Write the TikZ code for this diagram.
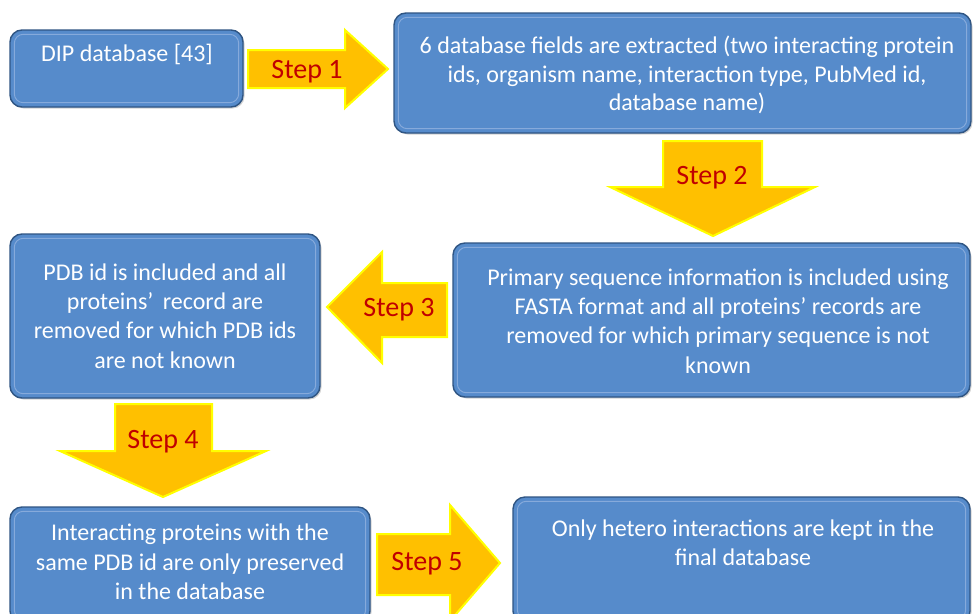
\documentclass[tikz,border=0pt]{standalone}
\usepackage{fontspec}
\setmainfont{Carlito}
\usepackage{tikz}
\usetikzlibrary{shadows}

\definecolor{boxblue}{HTML}{568BCB}
\definecolor{boxedge}{HTML}{2F5583}
\definecolor{bevelblue}{HTML}{86AADB}
\definecolor{stepfill}{HTML}{FFC000}
\definecolor{stepedge}{HTML}{FFFF00}
\definecolor{steptext}{HTML}{C00000}

\tikzset{
  box/.style={draw=boxedge, line width=1.4pt, fill=boxblue, rounded corners=12pt,
    drop shadow={shadow xshift=1.5pt, shadow yshift=-1.5pt, opacity=0.35}},
  bevel/.style={draw=bevelblue, line width=1pt, rounded corners=9pt},
  txt/.style={text=white, align=center, font=\fontsize{24}{29.3}\selectfont},
  stepshape/.style={fill=stepfill, draw=stepedge, line width=2pt, line join=miter},
  steplabel/.style={text=steptext, font=\fontsize{28}{30}\selectfont}
}

\begin{document}
\begin{tikzpicture}[x=1pt,y=-1pt]
  \useasboundingbox (0,0) rectangle (973,613);
  \clip (0,0) rectangle (973,613);

  % Boxes
  \node[box, minimum width=233pt, minimum height=77pt] (dip) at (126.5,68.5) {};
  \node[box, minimum width=577pt, minimum height=120pt] (fields) at (682.5,73) {};
  \node[box, minimum width=310pt, minimum height=164pt] (pdb) at (165,316) {};
  \node[box, minimum width=517pt, minimum height=154pt] (fasta) at (711.5,320) {};
  \node[box, minimum width=360pt, minimum height=116pt] (same) at (190,565) {};
  \node[box, minimum width=457pt, minimum height=126pt] (hetero) at (741.5,560) {};

  % inner bevel line
  \foreach \b in {dip,fields,pdb,fasta,same,hetero}
    \draw[bevel] ([shift={(5pt,-5pt)}]\b.north west) rectangle ([shift={(-5pt,5pt)}]\b.south east);

  % Texts
  \node[txt] (diptext) at (127,54) {DIP database [43]};
  \node[txt, font=\fontsize{24}{28.5}\selectfont] (fieldstext) at (687,75) {6 database fields are extracted (two interacting protein\\ids, organism name, interaction type, PubMed id,\\database name)};
  \node[txt] (pdbtext) at (165,316) {PDB id is included and all\\proteins'\, record are\\removed for which PDB ids\\are not known};
  \node[txt] (fastatext) at (718,321) {Primary sequence information is included using\\FASTA format and all proteins' records are\\removed for which primary sequence is not\\known};
  \node[txt] (sametext) at (190,562) {Interacting proteins with the\\same PDB id are only preserved\\in the database};
  \node[txt] (heterotext) at (743,543) {Only hetero interactions are kept in the\\final database};

  % Step arrows
  \draw[stepshape] (248,50) -- (345,50) -- (345,30) -- (388,69) -- (345,108) -- (345,88) -- (248,88) -- cycle;
  \node[steplabel] (step1) at (307,72) {Step 1};

  \draw[stepshape] (663,141) -- (762,141) -- (762,187) -- (815,187) -- (713,236) -- (610,187) -- (663,187) -- cycle;
  \node[steplabel] (step2) at (712,178) {Step 2};

  \draw[stepshape] (447,283) -- (382,283) -- (382,252) -- (327,307) -- (382,363) -- (382,337) -- (447,337) -- cycle;
  \node[steplabel] (step3) at (399,310) {Step 3};

  \draw[stepshape] (115,404) -- (212,404) -- (212,451) -- (266,451) -- (163,497) -- (60,451) -- (115,451) -- cycle;
  \node[steplabel] (step4) at (163,442) {Step 4};

  \draw[stepshape] (377,534) -- (450,534) -- (450,505) -- (500,563) -- (450,621) -- (450,595) -- (377,595) -- cycle;
  \node[steplabel] (step5) at (427,564) {Step 5};
\end{tikzpicture}
\end{document}
